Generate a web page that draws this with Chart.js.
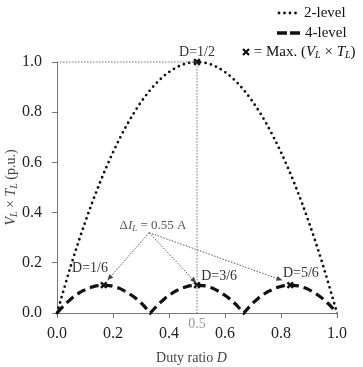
<!DOCTYPE html>
<html lang="en">
<head>
<meta charset="utf-8" />
<title>V_L x T_L vs duty ratio</title>
<style>
body{margin:0;background:#fff;}
#wrap{width:363px;height:367px;position:relative;}
</style>
</head>
<body>
<div id="wrap"><canvas id="chart"></canvas></div>

<script src="https://cdn.jsdelivr.net/npm/chart.js@4.4.1"></script>
<script>
/* ---------- values ---------- */
const dutyCoarse = [0,0.05,0.1,0.15,0.2,0.25,0.3,0.35,0.4,0.45,0.5,0.55,0.6,0.65,0.7,0.75,0.8,0.85,0.9,0.95,1];
const twoLevel   = [0,0.19,0.36,0.51,0.64,0.75,0.84,0.91,0.96,0.99,1.0,0.99,0.96,0.91,0.84,0.75,0.64,0.51,0.36,0.19,0];

const dutyFine  = [0,0.028,0.056,0.083,0.111,0.139,0.167,0.194,0.222,0.25,0.278,0.306,0.333,
                   0.361,0.389,0.417,0.444,0.472,0.5,0.528,0.556,0.583,0.611,0.639,0.667,
                   0.694,0.722,0.75,0.778,0.806,0.833,0.861,0.889,0.917,0.944,0.972,1];
const fourLevel = [0,0.034,0.062,0.083,0.099,0.108,0.111,0.108,0.099,0.083,0.062,0.034,0,
                   0.034,0.062,0.083,0.099,0.108,0.111,0.108,0.099,0.083,0.062,0.034,0,
                   0.034,0.062,0.083,0.099,0.108,0.111,0.108,0.099,0.083,0.062,0.034,0];

const maxDuty  = [0.167,0.5,0.833,0.5];
const maxValue = [0.111,0.111,0.111,1.0];

const refDuty  = [0,0.5,0.5];     // dotted guide to the 2-level peak
const refValue = [1.0,1.0,0];

const xTicks = [0,0.2,0.4,0.6,0.8,1.0];
const yTicks = [0,0.2,0.4,0.6,0.8,1.0];

/* ---------- helpers ---------- */
const SERIF = '"Liberation Serif","Times New Roman",serif';
const fnt = (size, italic) => (italic ? 'italic ' : '') + size + 'px ' + SERIF;
const zip = (xs, ys) => xs.map((x,i) => ({x, y: ys[i]}));

// draw a row of text runs with mixed fonts (for italics / subscripts)
function richText(ctx, parts, x, y, align){
    let w = 0;
    parts.forEach(p => { ctx.font = p[1]; w += ctx.measureText(p[0]).width; });
    let cx = align === 'center' ? x - w/2 : align === 'right' ? x - w : x;
    ctx.textAlign = 'left'; ctx.textBaseline = 'middle';
    parts.forEach(p => {
        ctx.font = p[1];
        ctx.fillText(p[0], cx, y + (p[2] || 0));
        cx += ctx.measureText(p[0]).width;
    });
}

function leader(ctx, x1, y1, x2, y2){
    ctx.save();
    ctx.strokeStyle = '#555'; ctx.fillStyle = '#444'; ctx.lineWidth = 1;
    ctx.setLineDash([1.5,1.5]);
    ctx.beginPath(); ctx.moveTo(x1,y1); ctx.lineTo(x2,y2); ctx.stroke();
    ctx.setLineDash([]);
    const a = Math.atan2(y2-y1, x2-x1), L = 6, W = 2.6;
    ctx.beginPath();
    ctx.moveTo(x2, y2);
    ctx.lineTo(x2 - L*Math.cos(a) + W*Math.sin(a), y2 - L*Math.sin(a) - W*Math.cos(a));
    ctx.lineTo(x2 - L*Math.cos(a) - W*Math.sin(a), y2 - L*Math.sin(a) + W*Math.cos(a));
    ctx.closePath(); ctx.fill();
    ctx.restore();
}

/* ---------- annotation / legend plug-in ---------- */
const decorations = {
    id: 'decorations',
    afterDatasetsDraw(chart){
        const {ctx, scales:{x, y}} = chart;
        const px = v => x.getPixelForValue(v), py = v => y.getPixelForValue(v);

        // leader lines from the ripple label to the 4-level maxima
        const ox = px(0.329), oy = py(0.32);
        leader(ctx, ox, oy, px(0.18), py(0.13));
        leader(ctx, ox, oy, px(0.497), py(0.12));
        leader(ctx, ox, oy, px(0.805), py(0.13));

        ctx.save();
        ctx.fillStyle = '#555';
        richText(ctx, [['\u0394', fnt(13)], ['I', fnt(13,true)], ['L', fnt(9,true), 3],
                       [' = 0.55 A', fnt(13)]], px(0.343), py(0.35), 'center');

        ctx.fillStyle = '#333';
        richText(ctx, [['D=1/2', fnt(14)]], px(0.5),   py(1.04),  'center');
        richText(ctx, [['D=1/6', fnt(14)]], px(0.118), py(0.176), 'center');
        richText(ctx, [['D=3/6', fnt(14)]], px(0.579), py(0.148), 'center');
        richText(ctx, [['D=5/6', fnt(14)]], px(0.871), py(0.16),  'center');

        // grey 0.5 under the vertical guide
        ctx.fillStyle = '#999';
        richText(ctx, [['0.5', fnt(14)]], px(0.5), y.bottom + 11, 'center');

        // axis titles
        ctx.fillStyle = '#444';
        richText(ctx, [['Duty ratio ', fnt(14)], ['D', fnt(14,true)]], px(0.48), 358, 'center');

        ctx.translate(11, (y.top + y.bottom)/2);
        ctx.rotate(-Math.PI/2);
        richText(ctx, [['V', fnt(14,true)], ['L', fnt(10,true), 3], [' \u00d7 ', fnt(14)],
                       ['T', fnt(14,true)], ['L', fnt(10,true), 3], [' (p.u.)', fnt(14)]], 0, 0, 'center');
        ctx.restore();
    },
    afterDraw(chart){
        const {ctx} = chart;
        ctx.save();
        ctx.strokeStyle = '#111'; ctx.fillStyle = '#111';

        // 2-level sample: dots
        ctx.lineWidth = 2.8; ctx.lineCap = 'round'; ctx.setLineDash([0,5.5]);
        ctx.beginPath(); ctx.moveTo(279,13); ctx.lineTo(299,13); ctx.stroke();

        // 4-level sample: dashes
        ctx.lineWidth = 3.4; ctx.lineCap = 'butt'; ctx.setLineDash([10,3]);
        ctx.beginPath(); ctx.moveTo(277,33); ctx.lineTo(300,33); ctx.stroke();

        // max marker
        ctx.setLineDash([]); ctx.lineWidth = 2.2;
        ctx.beginPath();
        ctx.moveTo(243,49); ctx.lineTo(249,55);
        ctx.moveTo(249,49); ctx.lineTo(243,55);
        ctx.stroke();

        richText(ctx, [['2-level', fnt(15)]], 304, 13, 'left');
        richText(ctx, [['4-level', fnt(15)]], 305, 33, 'left');
        richText(ctx, [[' = Max. (', fnt(15)], ['V', fnt(15,true)], ['L', fnt(10,true), 3],
                       [' \u00d7 ', fnt(15)], ['T', fnt(15,true)], ['L', fnt(10,true), 3],
                       [')', fnt(15)]], 250, 52, 'left');
        ctx.restore();
    }
};

Chart.defaults.animation = false;
Chart.defaults.font.family = SERIF;

new Chart(document.getElementById('chart'), {
    type: 'line',
    data: {
        datasets: [
            {   // guide lines to the 2-level maximum
                data: zip(refDuty, refValue),
                borderColor: '#777', borderWidth: 1, borderDash: [1.5,1.5],
                pointRadius: 0, tension: 0, clip: false
            },
            {
                label: '2-level',
                data: zip(dutyCoarse, twoLevel),
                borderColor: '#111', borderWidth: 2.8, borderDash: [0,5.5], borderCapStyle: 'round',
                pointRadius: 0, cubicInterpolationMode: 'monotone', clip: 4
            },
            {
                label: '4-level',
                data: zip(dutyFine, fourLevel),
                borderColor: '#111', borderWidth: 3.2, borderDash: [9,5],
                pointRadius: 0, tension: 0, clip: 4
            },
            {
                label: 'Max',
                data: zip(maxDuty, maxValue),
                showLine: false,
                pointStyle: 'crossRot', pointRadius: 4, borderWidth: 2.4,
                borderColor: '#111', backgroundColor: '#111', clip: false
            }
        ]
    },
    options: {
        responsive: true,
        maintainAspectRatio: false,
        layout: {padding: {top: 62, right: 26, left: 0, bottom: 0}},
        plugins: {legend: {display: false}, tooltip: {enabled: false}},
        scales: {
            x: {
                type: 'linear', min: 0, max: 1,
                afterFit: s => { s.height = 54; },
                afterBuildTicks: s => { s.ticks = xTicks.map(v => ({value: v})); },
                ticks: {color: '#222', font: {size: 16, family: SERIF}, padding: 6,
                        maxRotation: 0, callback: v => v.toFixed(1)},
                grid: {drawOnChartArea: false, tickLength: 5, color: '#777'},
                border: {color: '#777', width: 1}
            },
            y: {
                min: 0, max: 1,
                afterFit: s => { s.width = 57; },
                afterBuildTicks: s => { s.ticks = yTicks.map(v => ({value: v})); },
                ticks: {color: '#222', font: {size: 16, family: SERIF}, padding: 10,
                        callback: v => v.toFixed(1)},
                grid: {drawOnChartArea: false, tickLength: 5, color: '#777'},
                border: {color: '#777', width: 1}
            }
        }
    },
    plugins: [decorations]
});
</script>
</body>
</html>
